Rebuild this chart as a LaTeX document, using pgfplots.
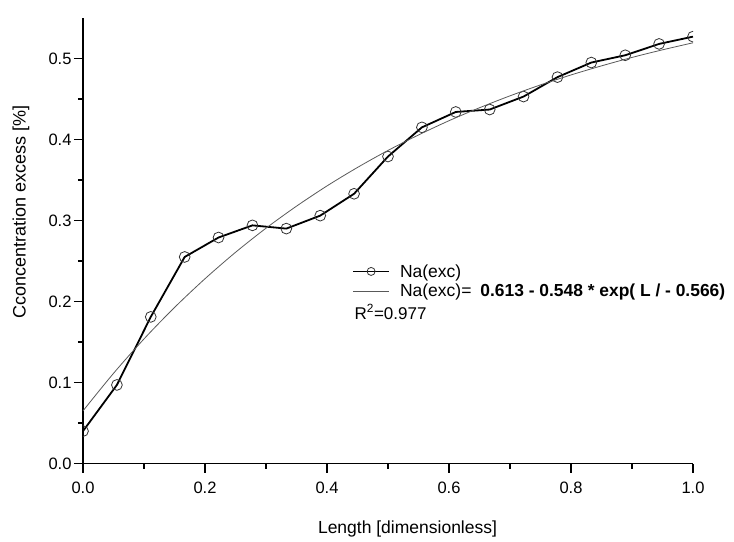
\documentclass[border=0pt]{standalone}
\usepackage{fontspec}
\setmainfont{Liberation Sans}
\usepackage{pgfplots}
\pgfplotsset{compat=1.18}
\begin{document}
\begin{tikzpicture}
\begin{axis}[
  scale only axis, width=610pt, height=445.5pt,
  xmin=0, xmax=1, ymin=0, ymax=0.55,
  axis lines*=left,
  axis line style={line width=1.3pt, -},
  tick align=outside,
  major tick length=9pt, minor tick length=5pt,
  xtick={0,0.2,0.4,0.6,0.8,1.0}, minor xtick={0.1,0.3,0.5,0.7,0.9},
  ytick={0,0.1,0.2,0.3,0.4,0.5}, minor ytick={0.05,0.15,0.25,0.35,0.45},
  tick style={line width=1.1pt, black},
  ticklabel style={font=\fontsize{16.5}{19}\selectfont},
  xticklabel style={yshift=-6pt},
  yticklabel style={xshift=1pt},
  /pgf/number format/fixed, /pgf/number format/fixed zerofill,
  /pgf/number format/precision=1, /pgf/number format/assume math mode=true,
  xlabel={Length [dimensionless]},
  ylabel={Cconcentration excess [\%]},
  label style={font=\fontsize{17.5}{20}\selectfont},
  ylabel style={at={(axis description cs:-0.1016,0.564)}, anchor=center, font=\fontsize{18}{20}\selectfont},
  xlabel style={at={(axis description cs:0.532,-0.1475)}, anchor=center},
  clip marker paths=true,
  legend style={at={(axis description cs:0.441,0.452)}, anchor=north west, draw=none, fill=none,
    inner sep=0pt, font=\fontsize{17.5}{19}\selectfont, row sep=1.6pt},
  legend cell align=left,
]
\addplot[black, line width=1.8pt, mark=o, mark size=5.4pt,
  mark options={line width=0.8pt, fill=white, draw=black!80},
  legend image code/.code={\draw[line width=1.8pt, mark repeat=2,mark phase=2, mark size=4pt] plot coordinates {(0pt,0pt) (18pt,0pt) (36pt,0pt)};}]
coordinates {
(0.0000,0.040) (0.0556,0.097) (0.1111,0.181) (0.1667,0.255) (0.2222,0.279)
(0.2778,0.294) (0.3333,0.290) (0.3889,0.306) (0.4444,0.333) (0.5000,0.379)
(0.5556,0.415) (0.6111,0.434) (0.6667,0.437) (0.7222,0.453) (0.7778,0.477)
(0.8333,0.495) (0.8889,0.504) (0.9444,0.518) (1.0000,0.527)
};
\addlegendentry{\hspace{8pt}Na(exc)}
\addplot[black!65, line width=0.8pt, smooth,
  legend image code/.code={\draw plot coordinates {(0pt,0pt) (36pt,0pt)};}] coordinates {
(0.00,0.0650) (0.05,0.1113) (0.10,0.1538) (0.15,0.1926) (0.20,0.2281)
(0.25,0.2607) (0.30,0.2905) (0.35,0.3177) (0.40,0.3427) (0.45,0.3655)
(0.50,0.3865) (0.55,0.4056) (0.60,0.4232) (0.65,0.4392) (0.70,0.4539)
(0.75,0.4674) (0.80,0.4797) (0.85,0.4909) (0.90,0.5013) (0.95,0.5107)
(1.00,0.5194)
};
\addlegendentry{\hspace{8pt}Na(exc)=\hspace{9pt}{\fontsize{17.4}{19}\selectfont\bfseries 0.613 - 0.548 * exp( L / - 0.566)}}
\node[anchor=west, font=\fontsize{17}{19}\selectfont, inner sep=0pt] at (axis description cs:0.445,0.340) {R\textsuperscript{2}=0.977};
\end{axis}
\pgfresetboundingbox
\path (-83pt,-78pt) rectangle (651pt,463.5pt);
\end{tikzpicture}
\end{document}
